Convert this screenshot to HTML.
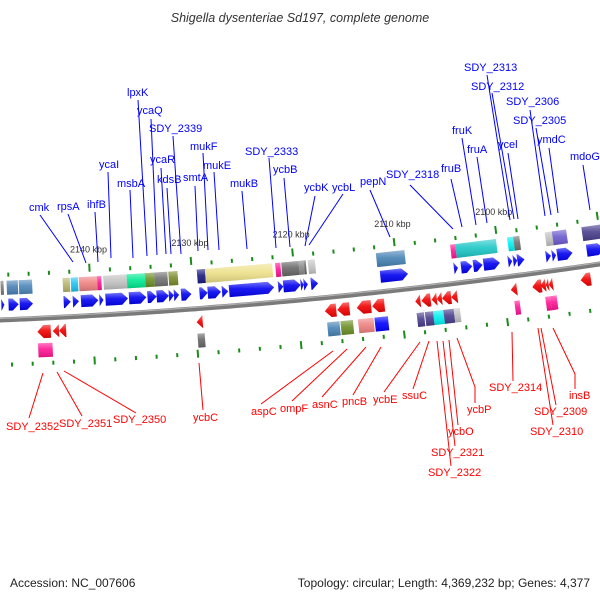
<!DOCTYPE html>
<html><head><meta charset="utf-8"><style>
html,body{margin:0;padding:0;background:#fff;}
svg{display:block;font-family:"Liberation Sans",sans-serif;}
</style></head><body>
<svg id="chart" width="600" height="600" viewBox="0 0 600 600">
<defs>
<linearGradient id="shine" x1="0" y1="0" x2="0" y2="1">
<stop offset="0" stop-color="#fff" stop-opacity="0.45"/>
<stop offset="0.45" stop-color="#fff" stop-opacity="0.1"/>
<stop offset="1" stop-color="#000" stop-opacity="0.15"/>
</linearGradient>
</defs>
<text x="300" y="22" text-anchor="middle" font-size="12.5" font-style="italic" fill="#333">Shigella dysenteriae Sd197, complete genome</text>
<g id="axisg"></g>
<g id="ticksg"></g>
<g id="genesg"></g>
<g id="labelsg"></g>
<text x="10" y="587" font-size="12" fill="#222">Accession: NC_007606</text>
<text x="590" y="587" font-size="12" text-anchor="end" fill="#222">Topology: circular; Length: 4,369,232 bp; Genes: 4,377</text>
</svg>
<script>
const majorTicks = [2140, 2130, 2120, 2110, 2100];
const tickLabels = ["2140 kbp","2130 kbp","2120 kbp","2110 kbp","2100 kbp"];
const fwdGenes = [[2148.8,2148.5],[2148.1,2147.1],[2147.0,2145.7],[2142.7,2142.0],[2141.8,2141.2],[2141.0,2139.3],[2139.2,2138.8],[2138.6,2136.4],[2136.3,2134.6],[2134.5,2133.6],[2133.6,2132.4],[2132.4,2131.9],[2131.9,2131.4],[2131.2,2130.2],[2129.4,2128.6],[2128.6,2127.3],[2127.2,2126.6],[2126.5,2122.1],[2121.7,2121.2],[2121.2,2119.5],[2119.5,2119.2],[2119.2,2118.8],[2118.5,2117.8],[2111.7,2109.0],[2104.5,2104.1],[2103.8,2102.7],[2102.6,2101.7],[2101.6,2100.0],[2099.2,2098.8],[2098.7,2098.3],[2098.3,2097.6],[2095.5,2095.0],[2094.9,2094.5],[2094.4,2092.9],[2091.5,2089.8]];
const revGenes = [[2145.4,2144.1],[2143.9,2143.3],[2143.3,2142.6],[2129.9,2129.3],[2117.4,2116.3],[2116.2,2115.0],[2114.3,2112.9],[2112.8,2111.6],[2108.6,2108.1],[2108.0,2107.1],[2107.0,2106.5],[2106.5,2106.0],[2106.0,2105.1],[2105.1,2104.5],[2099.3,2098.7],[2097.2,2096.3],[2096.4,2095.9],[2095.9,2095.6],[2095.6,2095.2],[2092.5,2091.5]];
const fwdBoxes = [[2148.8,2148.5],[2148.2,2147.1],[2147.0,2145.7],[2142.7,2142.0],[2141.9,2141.2],[2141.1,2139.3],[2139.3,2138.9],[2138.7,2136.4],[2136.4,2134.6],[2134.6,2133.7],[2133.7,2132.4],[2132.3,2131.4],[2129.5,2128.7],[2128.7,2122.1],[2121.8,2121.3],[2121.2,2119.5],[2119.5,2119.0],[2119.0,2118.8],[2118.6,2117.9],[2111.9,2109.1],[2104.6,2104.1],[2104.1,2100.1],[2099.0,2098.4],[2098.4,2097.8],[2095.3,2094.6],[2094.6,2093.2],[2091.7,2089.8]];
const fwdBoxColors = ["#777","#4a7fb5","#4a86b8","#b5b36b","#1ec0f0","#ee8080","#ff1493","#c0c0c0","#00e890","#6b8e23","#707070","#7a8a2a","#1a1a80","#eee08a","#ff1493","#666","#888","#666","#c4c4c4","#4682b4","#ff1493","#1cc6c6","#00f0f0","#707070","#c0c0c0","#6a5acd","#483d8b"];
const revBoxes = [[2145.4,2144.0],[2129.9,2129.2],[2117.3,2116.1],[2116.0,2114.8],[2114.3,2112.8],[2112.7,2111.4],[2108.6,2107.9],[2107.8,2107.0],[2107.0,2106.0],[2106.0,2105.0],[2105.0,2104.4],[2099.1,2098.6],[2096.1,2095.6],[2095.6,2095.0]];
const revBoxColors = ["#ff1493","#666","#4682b4","#6b8e23","#ee8080","#0000ff","#483d8b","#483d8b","#00f0f0","#483d8b","#c0c0c0","#ff1493","#ff1493","#ff1493"];

const NS="http://www.w3.org/2000/svg";
function yA(u){return 318-0.04*u-8.9e-5*u*u;}
function sl(u){return -0.04-1.78e-4*u;}
function uOf(k){return 92+(2140-k)*10.24;}
function pt(k,off){const u=uOf(k),s=sl(u),l=Math.sqrt(1+s*s);return [u+(-s/l)*off, yA(u)+off/l];}
function mk(tag,attrs,parent){const e=document.createElementNS(NS,tag);for(const a in attrs)e.setAttribute(a,attrs[a]);parent.appendChild(e);return e;}
function ps(arr){return arr.map(p=>p[0].toFixed(1)+","+p[1].toFixed(1)).join(" ");}

const axg=document.getElementById('axisg');
let d1="",d2="";
for(let u=-5;u<=605;u+=5){d1+=(u===-5?"M":"L")+u+","+(yA(u)+2).toFixed(2);d2+=(u===-5?"M":"L")+u+","+(yA(u)+0.5).toFixed(2);}
const bb=mk('path',{d:d1,stroke:"#7a7a7a","stroke-width":5,fill:"none"},axg);


const bb2=mk('path',{d:d2,stroke:"#b0b0b0","stroke-width":1.2,fill:"none"},axg);



const tg=document.getElementById('ticksg');
for(let k=2152;k>=2088;k-=2){
  const major=(k%10===0);
  [[-44,-42,-50],[46,48,52]].forEach((o,i)=>{
    const a=pt(k,major?(i?43:o[2]):o[0]-1), b=pt(k,major?(i?51:-42):o[1]+1);
    const ln=mk('line',{x1:a[0],y1:a[1],x2:b[0],y2:b[1],stroke:"#1a8c1a","stroke-width":2},tg);
    
    
  });
}
majorTicks.forEach((k,i)=>{
  const p=pt(k,-61);
  const t=mk('text',{x:p[0],y:p[1],"text-anchor":"middle","font-size":9,fill:"#333"},tg);
  t.textContent=tickLabels[i];
  
  
});

const gg=document.getElementById('genesg');
function shape(points,color,name){
  const g=mk('g',{},gg);
  
  
  mk('polygon',{points:ps(points),fill:color},g);
  mk('polygon',{points:ps(points),fill:"url(#shine)"},g);
}
fwdGenes.forEach(g=>{
  const k1=g[0],k2=g[1],h=Math.min(0.6,k1-k2);
  shape([pt(k1,-19),pt(k2+h,-19),pt(k2,-13),pt(k2+h,-7),pt(k1,-7)],"#0000f0",'forward-gene');
});
revGenes.forEach(g=>{
  const k1=g[0],k2=g[1],h=Math.min(0.6,k1-k2);
  shape([pt(k1,15.5),pt(k1-h,9),pt(k2,9),pt(k2,22),pt(k1-h,22)],"#f00000",'reverse-gene');
});
fwdBoxes.forEach((g,i)=>{shape([pt(g[0],-37),pt(g[1],-37),pt(g[1],-23),pt(g[0],-23)],fwdBoxColors[i],'forward-feature');});
revBoxes.forEach((g,i)=>{shape([pt(g[0],27),pt(g[1],27),pt(g[1],41),pt(g[0],41)],revBoxColors[i],'reverse-feature');});

const blueLabels=[["cmk",29,211,[[40,215],[73,262]]],["rpsA",57,210,[[68,214],[86,263]]],["ihfB",87,208,[[95,212],[98,262]]],["ycaI",99,168,[[108,172],[111,258]]],["msbA",117,187,[[130,190],[133,258]]],["lpxK",127,96,[[138,100],[147,256]]],["ycaQ",137,114,[[151,119],[157,255]]],["SDY_2339",149,132,[[173,136],[181,254]]],["ycaR",150,163,[[161,168],[166,254]]],["kdsB",157,183,[[167,188],[171,254]]],["smtA",183,181,[[195,186],[198,251]]],["mukF",190,150,[[203,153],[208,250]]],["mukE",203,169,[[214,172],[219,250]]],["mukB",230,187,[[242,191],[247,249]]],["SDY_2333",245,155,[[269,158],[276,248]]],["ycbB",273,173,[[284,178],[290,247]]],["ycbK",304,191,[[315,196],[305,246]]],["ycbL",332,191,[[343,194],[309,245]]],["pepN",360,185,[[370,190],[390,237]]],["SDY_2318",386,178,[[410,185],[453,229]]],["fruB",441,172,[[451,179],[462,227]]],["fruK",452,134,[[462,138],[476,225]]],["fruA",467,153,[[477,157],[487,223]]],["SDY_2313",464,71,[[487,75],[510,220]]],["SDY_2312",471,90,[[492,93],[514,219]]],["ycel",498,148,[[508,153],[518,219]]],["SDY_2306",506,105,[[530,110],[545,216]]],["SDY_2305",513,124,[[536,128],[551,215]]],["ymdC",537,143,[[549,148],[558,213]]],["mdoG",570,160,[[583,165],[590,210]]]];
const redLabels=[["SDY_2352",6,430,[[29,418],[43,373]]],["SDY_2351",59,427,[[82,416],[57,372]]],["SDY_2350",113,423,[[136,413],[64,371]]],["ycbC",193,421,[[203,410],[199,363]]],["aspC",251,415,[[261,404],[333,351]]],["ompF",280,412,[[292,401],[347,349]]],["asnC",312,408,[[322,397],[366,347]]],["pncB",342,405,[[353,395],[381,347]]],["ycbE",373,403,[[384,392],[420,342]]],["ssuC",402,399,[[413,389],[429,341]]],["ycbP",467,413,[[475,403],[475,387],[457,338]]],["ycbO",448,435,[[458,425],[449,340]]],["SDY_2321",431,456,[[455,446],[443,341]]],["SDY_2322",428,476,[[451,466],[437,341]]],["SDY_2314",489,391,[[513,381],[512,332]]],["SDY_2309",534,415,[[556,405],[541,328]]],["SDY_2310",530,435,[[553,425],[538,328]]],["insB",569,399,[[575,389],[575,374],[553,328]]]];
const lg=document.getElementById('labelsg');
function lab(L,color){
  L.forEach(l=>{
    const pl=mk('polyline',{points:ps(l[3]),stroke:color,"stroke-width":1,fill:"none"},lg);
    
    
    const t=mk('text',{x:l[1],y:l[2],"font-size":11,fill:color},lg);
    t.textContent=l[0];
    
    
  });
}
lab(blueLabels,"#0000ff");
lab(redLabels,"#ff0000");
</script>
</body></html>
